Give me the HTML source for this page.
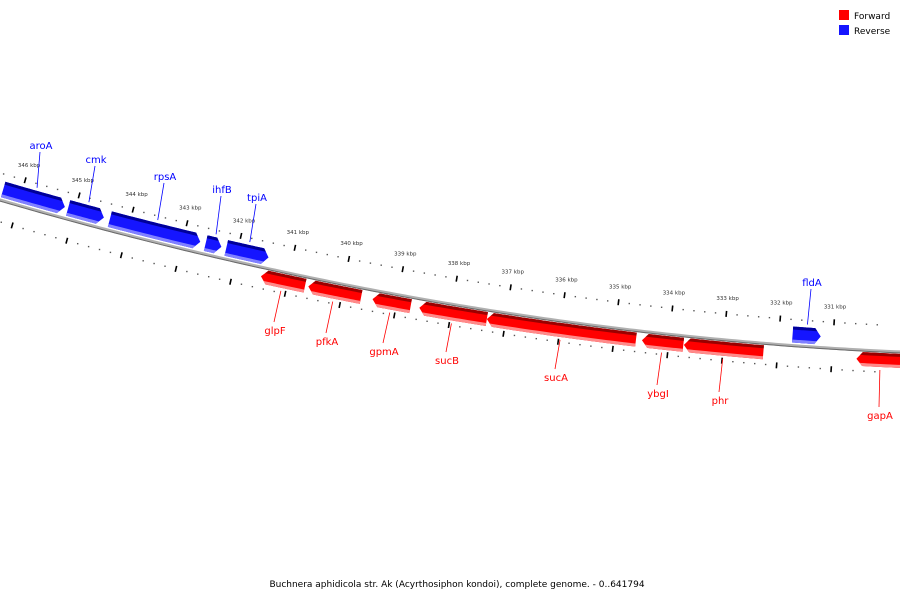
<!DOCTYPE html>
<html><head><meta charset="utf-8"><style>
html,body{margin:0;padding:0;background:#fff;}
svg{display:block;font-family:"DejaVu Sans","Liberation Sans",sans-serif;}
</style></head><body>
<svg id="map" width="900" height="600" viewBox="0 0 900 600" xmlns="http://www.w3.org/2000/svg">
<g id="ticks"></g>
<g id="backbone"></g>
<g id="genes"></g>
<g id="labels"></g>
<g>
<rect x="839" y="10" width="10" height="10" fill="#ff0000"/>
<text x="854" y="19" font-size="9" fill="#000">Forward</text>
<rect x="839" y="25" width="10" height="10" fill="#1515ff"/>
<text x="854" y="34" font-size="9" fill="#000">Reverse</text>
</g>
<text x="457" y="587" font-size="9" text-anchor="middle" fill="#000">Buchnera aphidicola str. Ak (Acyrthosiphon kondoi), complete genome. - 0..641794</text>
</svg>
<script>
// gene data (kbp)
const geneNames = ["aroA","cmk","rpsA","ihfB","tpiA","fldA","glpF","pfkA","gpmA","sucB","sucA","ybgI","phr","gapA"];
const geneStrand = ["r","r","r","r","r","r","f","f","f","f","f","f","f","f"];
const geneStart = [346.33,345.13,344.36,342.59,342.21,331.75,341.49,340.62,339.44,338.58,337.34,334.49,333.72,330.55];
const geneEnd   = [345.19,344.47,342.69,342.30,341.43,331.23,340.68,339.65,338.74,337.34,334.60,333.73,332.26,329.67];
const labelX = [41,96,165,222,257,812,275,327,384,447,556,658,720,880];
const labelY = [149,163,180,193,201,286,334,345,355,364,381,397,404,419];
const tickKbp = [347,346,345,344,343,342,341,340,339,338,337,336,335,334,333,332,331,330];

const NS="http://www.w3.org/2000/svg";
const A=0.293,B=-0.000138;
function kx(k){return 18+(346-k)*54.3;}
function P(x,off){const y=200+A*x+B*x*x;const s=A+2*B*x;const n=Math.sqrt(1+s*s);return [x+s*off/n,y-off/n];}
function mk(tag,attrs,parent){const e=document.createElementNS(NS,tag);for(const k in attrs)e.setAttribute(k,attrs[k]);parent.appendChild(e);return e;}
function strip(x1,x2,o1,o2){let pts=[];const st=(x2-x1)/20;for(let i=0;i<=20;i++)pts.push(P(x1+st*i,o1));for(let i=20;i>=0;i--)pts.push(P(x1+st*i,o2));return pts.map(p=>p.join(',')).join(' ');}

// backbone
const bb=document.getElementById('backbone');
let bpts=[];for(let x=-5;x<=905;x+=5)bpts.push(P(x,0).join(','));
const bl1=mk('polyline',{points:bpts.join(' '),fill:'none',stroke:'#b0b0b0','stroke-width':3},bb);


let bpts2=[];for(let x=-5;x<=905;x+=5)bpts2.push(P(x,-1).join(','));
const bl2=mk('polyline',{points:bpts2.join(' '),fill:'none',stroke:'#6a6a6a','stroke-width':1},bb);



// ticks
const tg=document.getElementById('ticks');
[[26,true],[-21,false]].forEach(([ring,lab])=>{
  for(let t=0;t<tickKbp.length-1;t++){
    for(let j=0;j<5;j++){
      const k=tickKbp[t]-j*0.2;const x=kx(k);
      if(j===0){
        const a=P(x,ring-3),b=P(x,ring+3);
        const l=mk('line',{x1:a[0],y1:a[1],x2:b[0],y2:b[1],stroke:'#000','stroke-width':1.6},tg);
        
        
        if(lab){const p=P(x,ring+14);
          const tx=mk('text',{x:p[0],y:p[1],'font-size':5.5,'text-anchor':'middle',fill:'#333'},tg);
          tx.textContent=tickKbp[t]+' kbp';
          
          }
      } else {
        const p=P(x,ring);
        const d=mk('rect',{x:p[0]-0.7,y:p[1]-0.7,width:1.4,height:1.4,fill:'#555'},tg);
        
        
      }
    }
  }
});

// genes
const gg=document.getElementById('genes');const lg=document.getElementById('labels');
const defs=mk('defs',{},document.getElementById('map'));
geneNames.forEach((nm,i)=>{
  const rev=geneStrand[i]==='r';
  const x1=kx(geneStart[i]),x2=kx(geneEnd[i]);
  const top=rev?19:-2,bot=rev?3:-16,mid=(top+bot)/2,ah=6;
  let pts=[];
  if(rev){const xe=x2-ah;const st=(xe-x1)/20;
    for(let k=0;k<=20;k++)pts.push(P(x1+st*k,top));pts.push(P(x2,mid));
    for(let k=20;k>=0;k--)pts.push(P(x1+st*k,bot));}
  else{const xs=x1+ah;const st=(x2-xs)/20;
    pts.push(P(x1,mid));for(let k=0;k<=20;k++)pts.push(P(xs+st*k,top));
    for(let k=20;k>=0;k--)pts.push(P(xs+st*k,bot));}
  const cp=mk('clipPath',{id:'cp'+i},defs);
  mk('polygon',{points:pts.map(p=>p.join(',')).join(' ')},cp);
  const g=mk('g',{'clip-path':'url(#cp'+i+')'},gg);
  
  
  const main=rev?'#1515ff':'#ff0000',dark=rev?'#000099':'#9a0000',light=rev?'#8080ff':'#ff8a8a';
  mk('polygon',{points:strip(x1-2,x2+2,top+1,bot-1),fill:main},g);
  mk('polygon',{points:strip(x1-2,x2+2,top+1,top-3),fill:dark},g);
  mk('polygon',{points:strip(x1-2,x2+2,bot+3,bot-1),fill:light},g);
  // label
  const xm=(x1+x2)/2;const s=P(xm,rev?top+3:bot-3);
  const lx=labelX[i],ly=labelY[i];
  const ln=mk('line',{x1:s[0],y1:s[1],x2:lx-1,y2:rev?ly+3:ly-12,stroke:rev?'#0000ff':'#ff0000','stroke-width':0.8},lg);
  
  
  const tx=mk('text',{x:lx,y:ly,'font-size':10,'text-anchor':'middle',fill:rev?'#0000ff':'#ff0000'},lg);
  tx.textContent=nm;
  
  
});
</script>
</body></html>
